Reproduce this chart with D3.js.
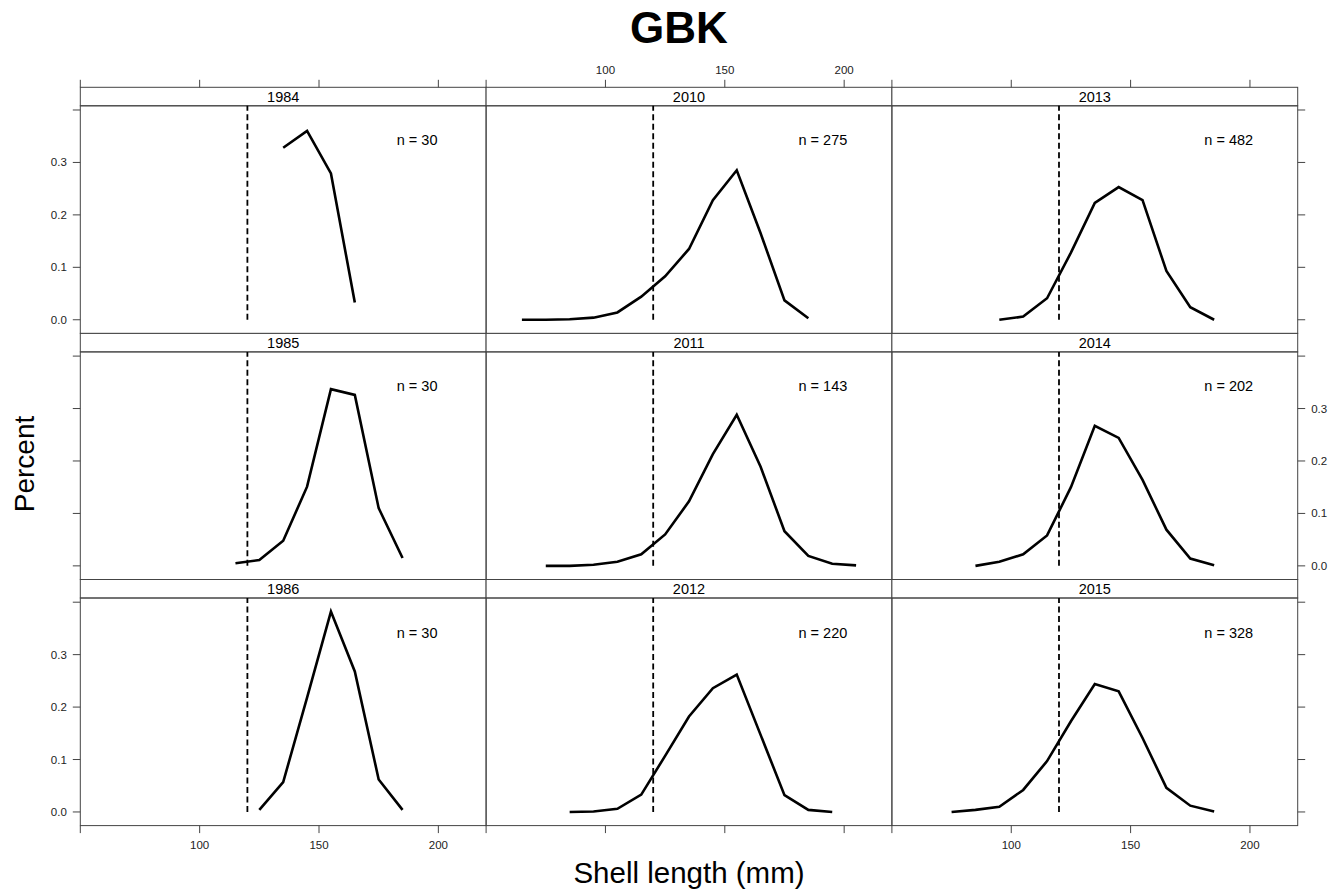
<!DOCTYPE html>
<html>
<head>
<meta charset="utf-8">
<script src="https://cdn.jsdelivr.net/npm/d3@7"></script>
<style>
  body { margin: 0; background: #fff; }
  svg { font-family: "Liberation Sans", Arial, sans-serif; }
</style>
</head>
<body>
<div id="chart"></div>
<script>
// panel order: column by column (lattice layout 3 x 3)
const years = ['1984', '1985', '1986', '2010', '2011', '2012', '2013', '2014', '2015']
const sampleN = [30, 30, 30, 275, 143, 220, 482, 202, 328]

// shell length bin mid-points (mm) for each panel
const mid1984 = [135, 145, 155, 165]
const mid1985 = [115, 125, 135, 145, 155, 165, 175, 185]
const mid1986 = [125, 135, 145, 155, 165, 175, 185]
const mid2010 = [65, 75, 85, 95, 105, 115, 125, 135, 145, 155, 165, 175, 185]
const mid2011 = [75, 85, 95, 105, 115, 125, 135, 145, 155, 165, 175, 185, 195, 205]
const mid2012 = [85, 95, 105, 115, 125, 135, 145, 155, 165, 175, 185, 195]
const mid2013 = [95, 105, 115, 125, 135, 145, 155, 165, 175, 185]
const mid2014 = [85, 95, 105, 115, 125, 135, 145, 155, 165, 175, 185]
const mid2015 = [75, 85, 95, 105, 115, 125, 135, 145, 155, 165, 175, 185]

// proportion in each bin
const pct1984 = [0.328, 0.360, 0.279, 0.033]
const pct1985 = [0.005, 0.011, 0.048, 0.151, 0.337, 0.326, 0.110, 0.015]
const pct1986 = [0.004, 0.057, 0.218, 0.382, 0.268, 0.062, 0.004]
const pct2010 = [0.0, 0.0, 0.001, 0.004, 0.014, 0.044, 0.083, 0.135, 0.228, 0.285, 0.165, 0.037, 0.003]
const pct2011 = [0.0, 0.0, 0.002, 0.008, 0.022, 0.060, 0.123, 0.213, 0.288, 0.189, 0.066, 0.019, 0.004, 0.001]
const pct2012 = [0.0, 0.001, 0.006, 0.033, 0.107, 0.182, 0.236, 0.262, 0.147, 0.032, 0.004, 0.0]
const pct2013 = [0.0, 0.006, 0.041, 0.128, 0.223, 0.253, 0.228, 0.093, 0.024, 0.0]
const pct2014 = [0.0, 0.008, 0.022, 0.058, 0.150, 0.267, 0.244, 0.164, 0.069, 0.014, 0.001]
const pct2015 = [0.0, 0.004, 0.010, 0.042, 0.097, 0.173, 0.244, 0.230, 0.141, 0.046, 0.012, 0.001]

const mids = [mid1984, mid1985, mid1986, mid2010, mid2011, mid2012, mid2013, mid2014, mid2015]
const pcts = [pct1984, pct1985, pct1986, pct2010, pct2011, pct2012, pct2013, pct2014, pct2015]

const xTicks = [50, 100, 150, 200]
const xTickLabels = ['', '100', '150', '200']
const yTicks = [0, 0.1, 0.2, 0.3, 0.4]
const yTickLabels = ['0.0', '0.1', '0.2', '0.3', '']
const cutoff = 120

const width = 1338
const height = 896
const gridLeft = 80.3
const gridTop = 87.3
const colW = 405.8
const rowH = 246.1
const stripH = 18.5
const tickLen = 7.5
const frame = '#444'

const svg = d3.select('#chart').append('svg')
  .attr('width', width)
  .attr('height', height)

svg.append('text')
  .attr('x', 679).attr('y', 43)
  .attr('text-anchor', 'middle')
  .attr('font-size', 44).attr('font-weight', 'bold')
  .text('GBK')

svg.append('text')
  .attr('transform', 'translate(34,464) rotate(-90)')
  .attr('text-anchor', 'middle')
  .attr('font-size', 28)
  .text('Percent')

svg.append('text')
  .attr('x', 689).attr('y', 883)
  .attr('text-anchor', 'middle')
  .attr('font-size', 29.5)
  .text('Shell length (mm)')

const line = d3.line()

years.forEach(function (yr, i) {
  const col = Math.floor(i / 3)
  const row = i % 3
  const x0 = gridLeft + col * colW
  const s0 = gridTop + row * rowH
  const p0 = s0 + stripH
  const p1 = s0 + rowH

  const x = d3.scaleLinear().domain([50, 220]).range([x0, x0 + colW])
  const y = d3.scaleLinear().domain([-0.026, 0.408]).range([p1, p0])

  const g = svg.append('g')

  // strip
  g.append('rect')
    .attr('x', x0).attr('y', s0).attr('width', colW).attr('height', stripH)
    .attr('fill', '#fff').attr('stroke', frame).attr('stroke-width', 1)
  g.append('text')
    .attr('x', x0 + colW / 2).attr('y', s0 + 14.7)
    .attr('text-anchor', 'middle').attr('font-size', 14.5)
    .text(yr)

  // panel
  g.append('rect')
    .attr('x', x0).attr('y', p0).attr('width', colW).attr('height', p1 - p0)
    .attr('fill', 'none').attr('stroke', frame).attr('stroke-width', 1)

  // reference line at 120 mm
  g.append('line')
    .attr('x1', x(cutoff)).attr('x2', x(cutoff))
    .attr('y1', y(0)).attr('y2', p0)
    .attr('stroke', '#000').attr('stroke-width', 1.8)
    .attr('stroke-dasharray', '6,3.5')

  // length frequency
  const pts = mids[i].map((m, k) => [x(m), y(pcts[i][k])])
  g.append('path')
    .attr('d', line(pts))
    .attr('fill', 'none').attr('stroke', '#000')
    .attr('stroke-width', 2.6).attr('stroke-linejoin', 'miter')

  g.append('text')
    .attr('x', x0 + 0.83 * colW).attr('y', p0 + 39.5)
    .attr('text-anchor', 'middle').attr('font-size', 14.5)
    .text('n = ' + sampleN[i])

  // top axis
  if (row === 0) {
    xTicks.forEach(function (t, k) {
      g.append('line').attr('x1', x(t)).attr('x2', x(t))
        .attr('y1', s0).attr('y2', s0 - tickLen).attr('stroke', frame)
      if (col === 1 && xTickLabels[k]) {
        g.append('text').attr('x', x(t)).attr('y', s0 - 13.5)
          .attr('text-anchor', 'middle').attr('font-size', 11.5).attr('fill', '#222')
          .text(xTickLabels[k])
      }
    })
  }
  // bottom axis
  if (row === 2) {
    xTicks.forEach(function (t, k) {
      g.append('line').attr('x1', x(t)).attr('x2', x(t))
        .attr('y1', p1).attr('y2', p1 + tickLen).attr('stroke', frame)
      if (col !== 1 && xTickLabels[k]) {
        g.append('text').attr('x', x(t)).attr('y', p1 + 23)
          .attr('text-anchor', 'middle').attr('font-size', 11.5).attr('fill', '#222')
          .text(xTickLabels[k])
      }
    })
  }
  // left axis
  if (col === 0) {
    yTicks.forEach(function (t, k) {
      g.append('line').attr('x1', x0).attr('x2', x0 - tickLen)
        .attr('y1', y(t)).attr('y2', y(t)).attr('stroke', frame)
      if (row !== 1 && yTickLabels[k]) {
        g.append('text').attr('x', x0 - 13.5).attr('y', y(t) + 4)
          .attr('text-anchor', 'end').attr('font-size', 11.5).attr('fill', '#222')
          .text(yTickLabels[k])
      }
    })
  }
  // right axis
  if (col === 2) {
    yTicks.forEach(function (t, k) {
      g.append('line').attr('x1', x0 + colW).attr('x2', x0 + colW + tickLen)
        .attr('y1', y(t)).attr('y2', y(t)).attr('stroke', frame)
      if (row === 1 && yTickLabels[k]) {
        g.append('text').attr('x', x0 + colW + 13.5).attr('y', y(t) + 4)
          .attr('text-anchor', 'start').attr('font-size', 11.5).attr('fill', '#222')
          .text(yTickLabels[k])
      }
    })
  }
})
</script>
</body>
</html>
